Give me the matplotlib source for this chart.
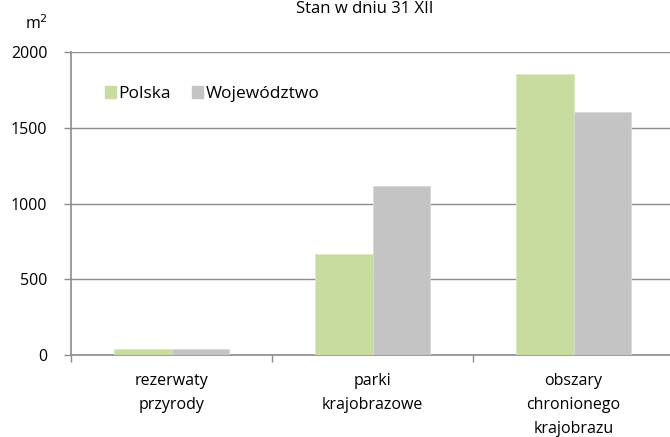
import numpy as np
import matplotlib
matplotlib.use('Agg')
import matplotlib.pyplot as plt
from matplotlib.patches import Patch

# Data
categories = ['rezerwaty\nprzyrody', 'parki\nkrajobrazowe',
              'obszary\nchronionego\nkrajobrazu']
polska = [40, 667, 1855]
wojewodztwo = [42, 1115, 1604]
yticks = [0, 500, 1000, 1500, 2000]

GREEN = '#C9DC9F'
GREY = '#C4C4C4'
AXIS = '#8C8C8C'

plt.rcParams['font.family'] = ['Open Sans', 'DejaVu Sans']

fig = plt.figure(figsize=(6.7, 4.37), dpi=100)
ax = fig.add_axes([71 / 670, 1 - 355 / 437, 603 / 670, 303 / 437])

x = np.arange(len(categories))
w = 0.286
ax.bar(x - w / 2, polska, w, color=GREEN, edgecolor='#DDE8C4', linewidth=0.6,
       zorder=3)
ax.bar(x + w / 2, wojewodztwo, w, color=GREY, edgecolor='#D8D8D8',
       linewidth=0.6, zorder=3)

ax.set_xlim(-0.5, len(categories) - 0.5)
ax.set_ylim(0, 2000)
ax.set_yticks(yticks)
ax.set_yticklabels([str(v) for v in yticks], fontsize=11.5)
ax.yaxis.grid(True, color=AXIS, linewidth=1.0, zorder=0)

# category labels between boundary ticks
ax.set_xticks(np.arange(-0.5, len(categories)), minor=False)
ax.set_xticklabels([])
ax.tick_params(axis='x', length=5, color=AXIS, width=1)
ax.tick_params(axis='y', length=5, color=AXIS, width=1, pad=12)
for xi, lab in zip(x, categories):
    ax.text(xi, -0.058, lab, transform=ax.get_xaxis_transform(),
            ha='center', va='top', fontsize=11.5, linespacing=1.68)

for s in ['top', 'right']:
    ax.spines[s].set_visible(False)
for s in ['left', 'bottom']:
    ax.spines[s].set_color(AXIS)
    ax.spines[s].set_linewidth(1.2)

handles = [Patch(color=GREEN, label='Polska'),
           Patch(color=GREY, label='Województwo')]
ax.legend(handles=handles, loc='upper left', bbox_to_anchor=(0.03, 0.94),
          ncol=2, frameon=False, fontsize=12.5, handlelength=0.65,
          handleheight=0.65, handletextpad=0.15, columnspacing=1.2)

fig.text(365 / 670, 1 - 9 / 437, 'Stan w dniu 31 XII', ha='center',
         va='center', fontsize=12)
fig.text(36 / 670, 1 - 24 / 437, 'm$^2$', ha='center', va='center',
         fontsize=11.5)

fig.savefig('out.png', dpi=100)
